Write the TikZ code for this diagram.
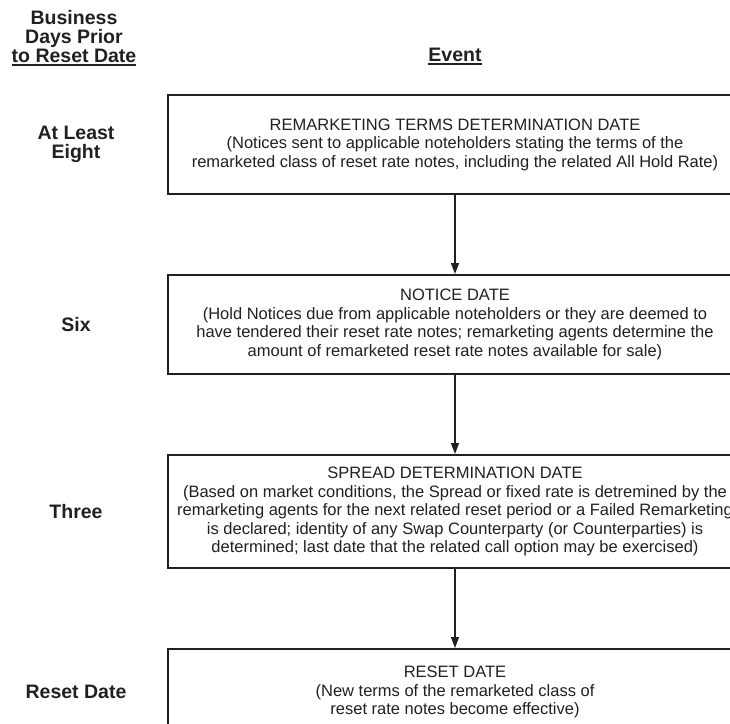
\documentclass[tikz,border=0pt]{standalone}
\usepackage{fontspec}
\setmainfont{Liberation Sans}
\usetikzlibrary{arrows.meta,positioning}
\definecolor{ResetInk}{HTML}{231F20}
\newcommand{\hdrline}[1]{\setbox0\hbox{#1}\rlap{\rule[-4pt]{\wd0}{2pt}}\box0}

\begin{document}
\begin{tikzpicture}[
    x=1pt,y=1pt,
    node distance=79pt,
    box/.style={draw=ResetInk,line width=2pt,minimum width=574pt,minimum height=99pt,
      align=center,inner sep=0pt,text=ResetInk,font=\fontsize{16.5}{18.5}\selectfont},
    day/.style={align=center,inner sep=0pt,text=ResetInk,font=\fontsize{19.5}{19}\selectfont\bfseries},
    arrow/.style={-{Triangle[length=11pt,width=8pt]},line width=1.3pt,draw=ResetInk}
  ]
    \useasboundingbox (0,0) rectangle (730,-723);
    \clip (0,0) rectangle (730,-723);
    % column heads
    \node[day,anchor=north] (hdrdays) at (74,-10) {Business\\Days Prior\\\hdrline{to Reset Date}};
    \node[day,anchor=base] (hdrevent) at (455,-61) {\hdrline{Event}};
    \coordinate (daycol) at (76,0);
    % events
    \node[box] (rtdd) at (455,-144.5) {REMARKETING TERMS DETERMINATION DATE\\
      (Notices sent to applicable noteholders stating the terms of the\\
      remarketed class of reset rate notes, including the related All Hold Rate)};
    \node[box,below=of rtdd] (notice) {NOTICE DATE\\
      (Hold Notices due from applicable noteholders or they are deemed to\\
      have tendered their reset rate notes; remarketing agents determine the\\
      amount of remarketed reset rate notes available for sale)};
    \node[box,below=of notice,minimum height=113pt] (spread) {SPREAD DETERMINATION DATE\\
      (Based on market conditions, the Spread or fixed rate is detremined by the\\
      remarketing agents for the next related reset period or a Failed Remarketing\\
      is declared; identity of any Swap Counterparty (or Counterparties) is\\
      determined; last date that the related call option may be exercised)};
    \node[box,below=of spread,minimum height=86pt] (reset) {RESET DATE\\
      (New terms of the remarketed class of\\
      reset rate notes become effective)};
    % business days
    \node[day] (dayeight) at (daycol |- rtdd) {At Least\\Eight};
    \node[day] (daysix) at (daycol |- notice) {Six};
    \node[day] (daythree) at (daycol |- spread) {Three};
    \node[day] (dayreset) at (daycol |- reset) {Reset Date};
    \draw[arrow] (rtdd) -- (notice);
    \draw[arrow] (notice) -- (spread);
    \draw[arrow] (spread) -- (reset);
  \end{tikzpicture}
\end{document}
